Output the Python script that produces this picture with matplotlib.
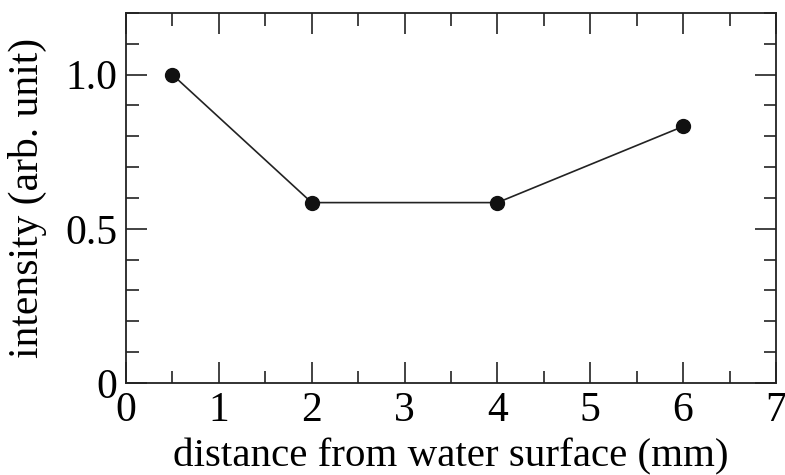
import matplotlib.pyplot as plt
from matplotlib.ticker import MultipleLocator, FixedFormatter, FixedLocator

plt.rcParams['font.family'] = ['Liberation Serif', 'DejaVu Serif']

distance = [0.5, 2, 4, 6]
intensity = [1.0, 0.585, 0.585, 0.832]
y_ticks = [0, 0.5, 1.0]
y_labels = ['0', '0.5', '1.0']

fig = plt.figure(figsize=(7.85, 4.75), dpi=100)
ax = fig.add_axes([0.1605, 0.1937, 0.828, 0.779])

ax.plot(distance, intensity, color='#222222', lw=1.2, marker='o', ms=10,
        markerfacecolor='#111111', markeredgecolor='#111111')

ax.set_xlim(0, 7)
ax.set_ylim(0, 1.2)
ax.xaxis.set_major_locator(MultipleLocator(1))
ax.xaxis.set_minor_locator(MultipleLocator(0.5))
ax.yaxis.set_major_locator(FixedLocator(y_ticks))
ax.yaxis.set_major_formatter(FixedFormatter(y_labels))
ax.yaxis.set_minor_locator(MultipleLocator(0.1))

ax.tick_params(which='both', direction='in', top=True, right=True, width=1.2, color='#222222')
ax.tick_params(which='major', length=15, labelsize=30, pad=6)
ax.tick_params(which='minor', length=9)
for s in ax.spines.values():
    s.set_linewidth(1.3)
    s.set_color('#222222')

ax.set_xlabel('distance from water surface (mm)', fontsize=29.5, labelpad=6)
ax.set_ylabel('intensity (arb. unit)', fontsize=30, labelpad=13)

fig.savefig('out.png', dpi=100)
